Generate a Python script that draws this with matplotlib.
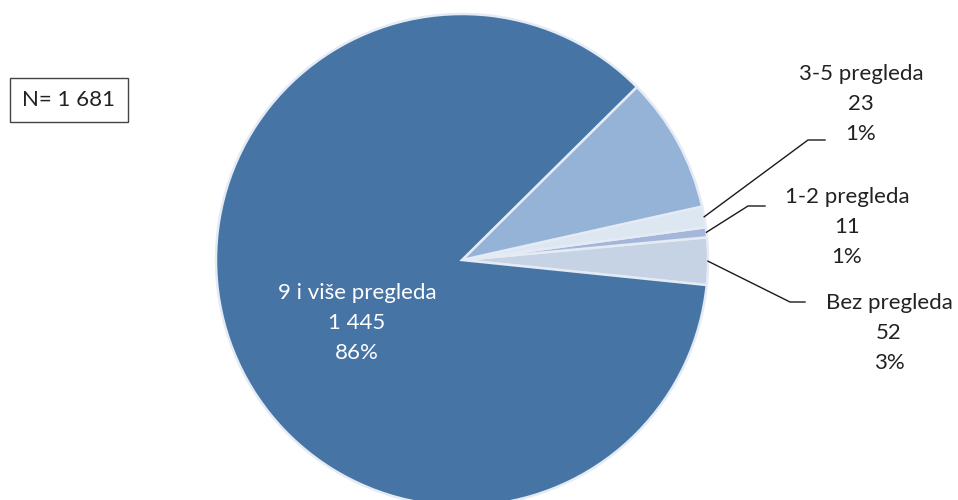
import numpy as np
import matplotlib
matplotlib.use("Agg")
import matplotlib.pyplot as plt
from matplotlib.patches import Rectangle

plt.rcParams['font.family'] = ['Lato', 'DejaVu Sans']

# Data (counterclockwise order starting at startangle)
categories = ["Bez pregleda", "1-2 pregleda", "3-5 pregleda", "", "9 i više pregleda"]
values = [52, 11, 23, 150, 1445]
value_labels = ["52", "11", "23", "", "1 445"]
pct_labels = ["3%", "1%", "1%", "", "86%"]
colors = ["#C5D3E5", "#A5B6DB", "#DDE7F2", "#95B3D7", "#4674A4"]
total_label = "N= 1 681"

W, H = 958, 500
fig = plt.figure(figsize=(W / 100, H / 100), dpi=100)
ax = fig.add_axes([0, 0, 1, 1])
ax.set_xlim(0, W)
ax.set_ylim(0, H)
ax.set_aspect('equal')
ax.axis('off')

cx, cy, R = 462, 240, 246
total = sum(values)
start = 44.7 - 360 * (sum(values[:-1]) / total)
wedges, _ = ax.pie(values, colors=colors, startangle=start, counterclock=True,
                   center=(cx, cy), radius=R, frame=True,
                   wedgeprops=dict(edgecolor='#E4EBF4', linewidth=1.8))
ax.set_xlim(0, W)
ax.set_ylim(0, H)
ax.axis('off')

FS = 16
LS = 1.65

# Inside label for main slice
ax.text(357, H - 323, f"{categories[4]}\n{value_labels[4]}\n{pct_labels[4]}",
        ha='center', va='center', color='white', fontsize=FS, linespacing=LS)

# Outside labels with leader lines
label_pos = {0: (889, H - 333), 1: (847, H - 227), 2: (861, H - 104)}
elbow = {0: (790, H - 302, 805), 1: (748, H - 206, 765), 2: (808, H - 140, 825)}
for i, (tx, ty) in label_pos.items():
    w = wedges[i]
    mid = np.deg2rad((w.theta1 + w.theta2) / 2)
    sx, sy = cx + R * np.cos(mid), cy + R * np.sin(mid)
    ex, ey, fx = elbow[i]
    ax.plot([sx, ex, fx], [sy, ey, ey], color='#1a1a1a', lw=1.0)
    ax.text(tx, ty, f"{categories[i]}\n{value_labels[i]}\n{pct_labels[i]}",
            ha='center', va='center', color='#222222', fontsize=FS, linespacing=LS)

# N box
ax.add_patch(Rectangle((10, H - 122), 118, 44, facecolor='white', edgecolor='#444444', lw=1.0))
ax.text(69, H - 100, total_label, ha='center', va='center', fontsize=FS, color='#222222')

fig.savefig('out.png', dpi=100)
